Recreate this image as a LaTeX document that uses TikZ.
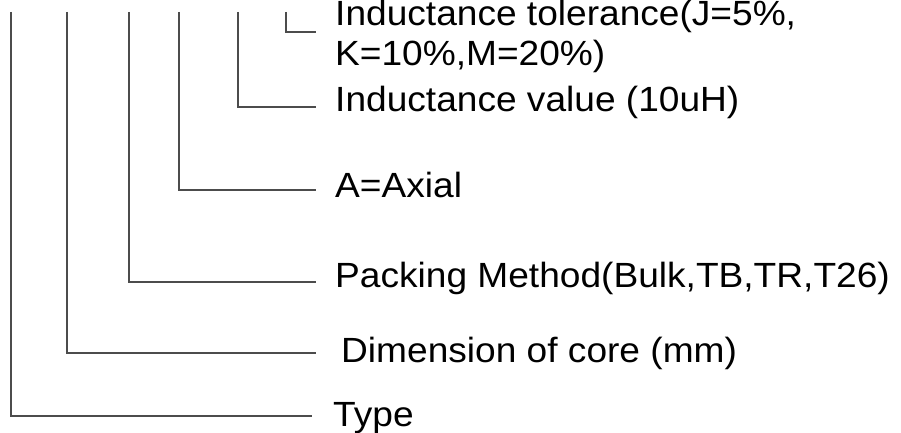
\documentclass[tikz,border=0pt]{standalone}
\usepackage{fontspec}
\setmainfont[FakeStretch=1.06]{Liberation Sans}
\begin{document}
\begin{tikzpicture}[x=1pt,y=-1pt,
  lbl/.style={anchor=base west,inner sep=0pt,font=\fontsize{35}{38}\selectfont,text=black},
  lead/.style={draw=black!70,line width=2.6pt}]
\useasboundingbox[fill=white] (0,0) rectangle (901,433);
% labels
\node[lbl] (tol1) at (335,26) {Inductance tolerance(J=5\%,};
\node[lbl] (tol2) at (335,66) {K=10\%,M=20\%)};
\node[lbl] (val)  at (335,112) {Inductance value (10uH)};
\node[lbl] (ax)   at (335,197) {A=Axial};
\node[lbl] (pack) at (335,287) {Packing Method(Bulk,TB,TR,T26)};
\node[lbl] (dim)  at (341,362) {Dimension of core (mm)};
\node[lbl] (typ)  at (333,426) {Type};
% leader tops and ends
\coordinate (t1) at (286,12);  \coordinate (e1) at (316,32);
\coordinate (t2) at (238,12);  \coordinate (e2) at (316,107);
\coordinate (t3) at (179,12);  \coordinate (e3) at (316,190);
\coordinate (t4) at (129,12);  \coordinate (e4) at (316,282);
\coordinate (t5) at (67,12);   \coordinate (e5) at (316,353);
\coordinate (t6) at (11,12);   \coordinate (e6) at (312,416);
\foreach \i in {1,...,6} {\draw[lead] (t\i) |- (e\i);}
\end{tikzpicture}
\end{document}
